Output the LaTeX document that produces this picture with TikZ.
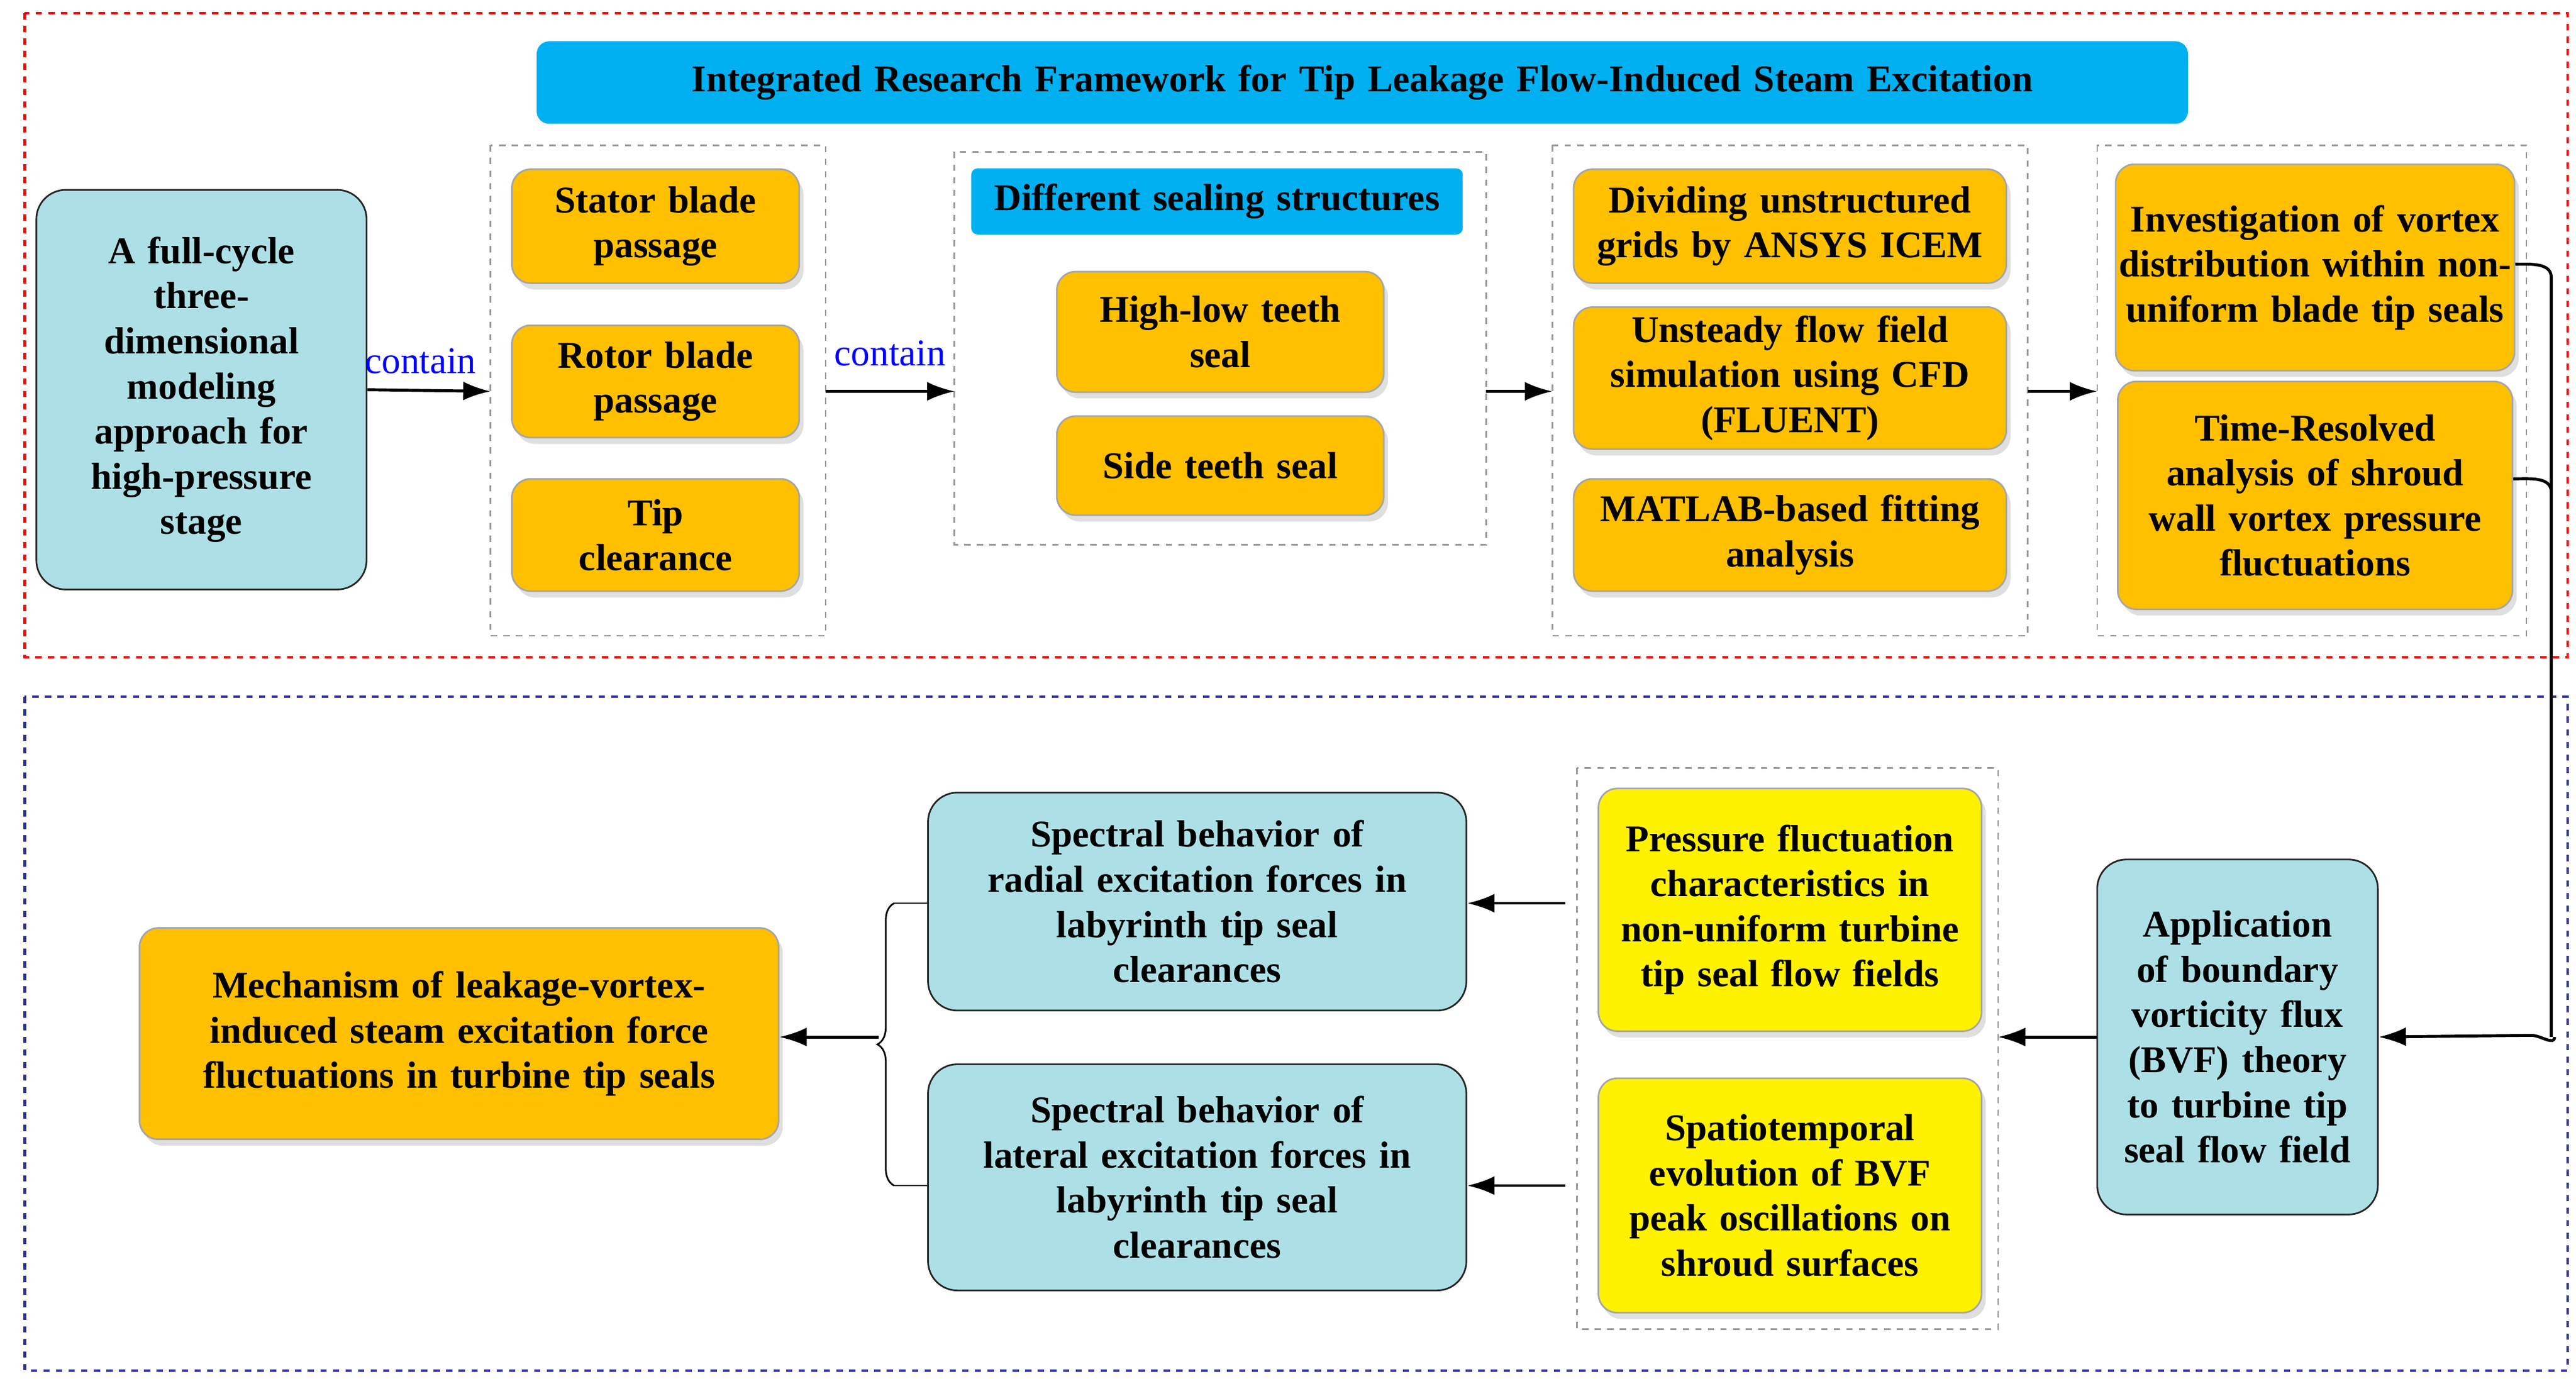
\documentclass[tikz,border=0pt]{standalone}
\usepackage{fontspec}
\setmainfont{Liberation Serif}
\usetikzlibrary{arrows.meta,shadows,decorations.pathreplacing}
\def\u{0.02766cm}
\newcommand\boxfont{\fontsize{18}{21.5}\selectfont\bfseries\hyphenpenalty 10000\relax}
\definecolor{tealbox}{HTML}{ADE0E6}
\definecolor{orangebox}{HTML}{FFC000}
\definecolor{cyanbar}{HTML}{00B0F0}
\definecolor{darkblue}{HTML}{2E3192}
\tikzset{
  sz/.style 2 args={minimum width=#1*\u, minimum height=#2*\u, text width=#1*\u-12pt},
  base/.style={align=center, font=\boxfont, inner sep=3pt},
  tealnode/.style={base, rounded corners=14pt, draw=black!85, thick, fill=tealbox},
  orangenode/.style={base, rounded corners=9pt, draw=gray!70, thick, fill=orangebox, drop shadow={opacity=0.25, shadow xshift=2pt, shadow yshift=-3pt}},
  yellownode/.style={orangenode, fill=yellow},
  group/.style={draw=gray!80, dashed, thick},
  link/.style={-{Latex[length=13pt,width=9pt]}, line width=1.4pt},
  lbl/.style={text=blue, font=\fontsize{18}{21}\selectfont}
}
\begin{document}
\begin{tikzpicture}[x=\u, y=-\u]
\useasboundingbox (0,0) rectangle (1560,835);
% outer frames
\draw[red, dashed, very thick] (15,8) rectangle (1555,398);
\draw[darkblue, dashed, very thick] (15,422) rectangle (1555,830);
\node[base, rounded corners=6pt, fill=cyanbar, sz={1000}{50}, text width=990*\u] (title) at (825,50) {Integrated Research Framework for Tip Leakage Flow-Induced Steam Excitation};
% upper row
\node[tealnode, sz={200}{242}] (full) at (122,236) {A full-cycle\\three-\\dimensional\\modeling\\approach for\\high-pressure\\stage};
\draw[group] (297,88) rectangle (500,385);
\node[orangenode, sz={174}{69}] (stator) at (397,137) {Stator blade\\passage};
\node[orangenode, sz={174}{68}] (rotor) at (397,231) {Rotor blade\\passage};
\node[orangenode, sz={174}{68}] (tip) at (397,324) {Tip\\clearance};
\coordinate (g1w) at (297,237);
\coordinate (g1e) at (500,237);
\draw[group] (578,92) rectangle (900,330);
\node[base, rounded corners=3pt, fill=cyanbar, sz={295}{40}, text width=290*\u] (diff) at (737,122) {Different sealing structures};
\node[orangenode, sz={198}{73}] (highlow) at (739,201) {High-low teeth\\seal};
\node[orangenode, sz={198}{60}] (side) at (739,282) {Side teeth seal};
\coordinate (g2w) at (578,237);
\coordinate (g2e) at (900,237);
\draw[group] (940,88) rectangle (1228,385);
\node[orangenode, sz={262}{69}] (grid) at (1084,137) {Dividing unstructured\\grids by ANSYS ICEM};
\node[orangenode, sz={262}{86}] (cfd) at (1084,229) {Unsteady flow field\\simulation using CFD\\(FLUENT)};
\node[orangenode, sz={262}{68}] (matlab) at (1084,324) {MATLAB-based fitting\\analysis};
\coordinate (g3w) at (940,237);
\coordinate (g3e) at (1228,237);
\draw[group] (1270,88) rectangle (1530,385);
\node[orangenode, sz={239}{125}, text width=239*\u, inner sep=1pt] (vortex) at (1402,162) {Investigation of vortex\\distribution within non-\\uniform blade tip seals};
\node[orangenode, sz={239}{138}] (timeres) at (1402,300) {Time-Resolved\\analysis of shroud\\wall vortex pressure\\fluctuations};
\coordinate (g4w) at (1270,237);
\draw[link] (full.east) -- node[lbl, above, xshift=-4pt, yshift=4pt] {contain} (g1w);
\draw[link] (g1e) -- node[lbl, above, yshift=8pt] {contain} (g2w);
\draw[link] (g2e) -- (g3w);
\draw[link] (g3e) -- (g4w);
% lower row
\node[tealnode, sz={170}{215}] (bvf) at (1355,628) {Application\\of boundary\\vorticity flux\\(BVF) theory\\to turbine tip\\seal flow field};
\coordinate (r1) at (1545,160);
\coordinate (r2) at (1545,290);
\coordinate (r3) at (1545,628);
\draw[line width=1.4pt] (vortex.east|-r1) to[out=0,in=90] ([yshift=-8*\u]r1) -- (r3);
\draw[line width=1.4pt] (timeres.east|-r2) to[out=0,in=90] ([yshift=-8*\u]r2);
\draw[link] ([xshift=2*\u]r3) to[out=-90,in=0] ([xshift=-12*\u,yshift=1*\u]r3) -- (bvf.east);
\draw[group] (955,465) rectangle (1210,805);
\coordinate (g5e) at (1210,628);
\coordinate (g5a) at (948,547);
\coordinate (g5b) at (948,718);
\node[yellownode, sz={232}{147}] (press) at (1084,551) {Pressure fluctuation\\characteristics in\\non-uniform turbine\\tip seal flow fields};
\node[yellownode, sz={232}{142}] (spatio) at (1084,724) {Spatiotemporal\\evolution of BVF\\peak oscillations on\\shroud surfaces};
\draw[link] (bvf.west) -- (g5e);
\node[tealnode, sz={326}{132}] (radial) at (725,546) {Spectral behavior of\\radial excitation forces in\\labyrinth tip seal\\clearances};
\node[tealnode, sz={326}{137}] (lateral) at (725,713) {Spectral behavior of\\lateral excitation forces in\\labyrinth tip seal\\clearances};
\draw[link] (g5a) -- (radial.east|-g5a);
\draw[link] (g5b) -- (lateral.east|-g5b);
\node[orangenode, sz={387}{128}] (mech) at (278,626) {Mechanism of leakage-vortex-\\induced steam excitation force\\fluctuations in turbine tip seals};
\draw[thick, decorate, decoration={brace, amplitude=8pt}] (radial.west|-0,718) ++(-20,0) coordinate (bb) -- ++(0,-171) coordinate (bt);
\draw[thick] (bt) -- (radial.west|-bt);
\draw[thick] (bb) -- (lateral.west|-bb);
\draw[link] (532,628) -- (mech.east|-0,628);
\end{tikzpicture}
\end{document}
